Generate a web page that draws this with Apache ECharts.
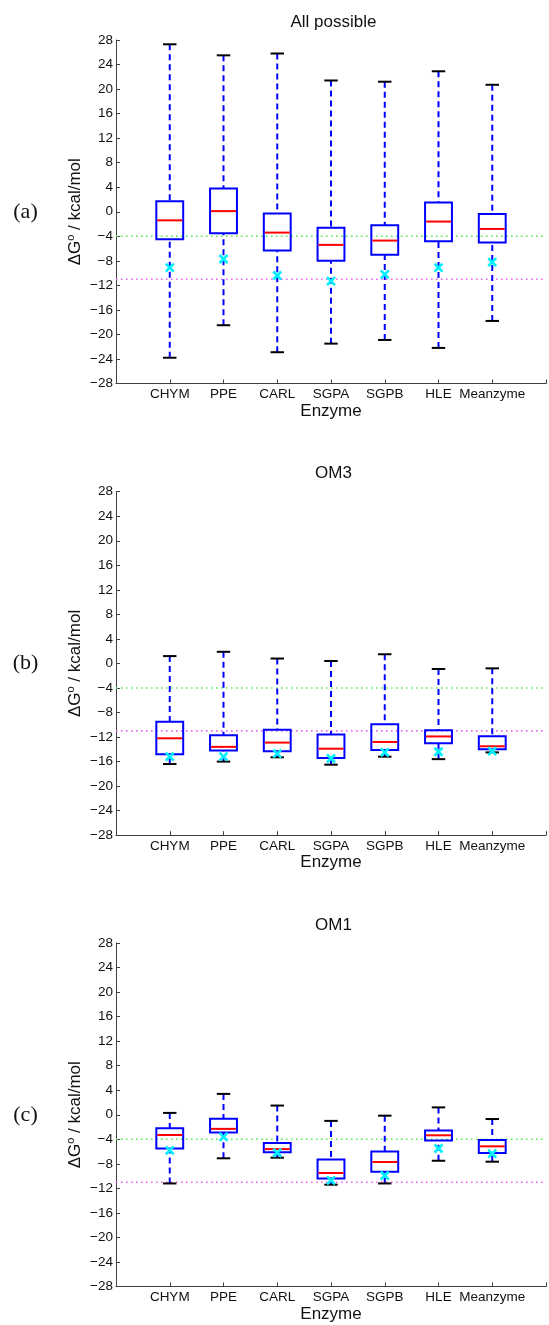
<!DOCTYPE html>
<html>
<head>
<meta charset="utf-8">
<script src="https://cdn.jsdelivr.net/npm/echarts@6/dist/echarts.min.js"></script>
<style>
html,body{margin:0;padding:0;background:#fff;}
#chart{width:549px;height:1325px;}
</style>
</head>
<body>
<div id="chart"></div>
<script>
// ---- data ----
const categories = ['CHYM', 'PPE', 'CARL', 'SGPA', 'SGPB', 'HLE', 'Meanzyme'];
const panelTitles = ['All possible', 'OM3', 'OM1'];
const panelTags = ['(a)', '(b)', '(c)'];
const yMin = -28, yMax = 28, yStep = 4;
const greenLevel = -4;
const magentaLevel = -11;

// All possible
const allHi   = [27.3, 25.5, 25.8, 21.4, 21.2, 22.9, 20.7];
const allQ3   = [1.7, 3.8, -0.3, -2.6, -2.2, 1.5, -0.35];
const allMed  = [-1.4, 0.1, -3.4, -5.4, -4.7, -1.6, -2.8];
const allQ1   = [-4.5, -3.5, -6.3, -8.0, -7.0, -4.8, -5.0];
const allLo   = [-23.8, -18.5, -22.9, -21.5, -20.9, -22.2, -17.8];
const allMark = [-9.1, -7.7, -10.4, -11.3, -10.2, -9.1, -8.2];

// OM3
const om3Hi   = [1.2, 1.9, 0.8, 0.4, 1.5, -0.9, -0.8];
const om3Q3   = [-9.5, -11.7, -10.8, -11.6, -9.9, -10.9, -11.85];
const om3Med  = [-12.2, -13.6, -12.9, -13.9, -12.8, -11.9, -13.5];
const om3Q1   = [-14.8, -14.2, -14.3, -15.4, -14.1, -13.0, -14.0];
const om3Lo   = [-16.4, -16.0, -15.3, -16.5, -15.2, -15.6, -14.5];
const om3Mark = [-15.2, -15.2, -14.7, -15.5, -14.5, -14.4, -14.3];

// OM1
const om1Hi   = [0.3, 3.4, 1.5, -1.0, -0.15, 1.2, -0.7];
const om1Q3   = [-2.2, -0.65, -4.6, -7.3, -6.0, -2.55, -4.1];
const om1Med  = [-3.3, -2.3, -5.6, -9.5, -7.7, -3.35, -5.15];
const om1Q1   = [-5.5, -2.9, -6.1, -10.4, -9.3, -4.2, -6.25];
const om1Lo   = [-11.2, -7.1, -7.0, -11.4, -11.2, -7.5, -7.65];
const om1Mark = [-5.8, -3.6, -6.2, -10.7, -9.9, -5.5, -6.35];

const panels = [
  {hi: allHi, q3: allQ3, med: allMed, q1: allQ1, lo: allLo, mark: allMark},
  {hi: om3Hi, q3: om3Q3, med: om3Med, q1: om3Q1, lo: om3Lo, mark: om3Mark},
  {hi: om1Hi, q3: om1Q3, med: om1Med, q1: om1Q1, lo: om1Lo, mark: om1Mark}
];

// ---- layout ----
const FONT = 'Liberation Sans, Arial, Helvetica, sans-serif';
const gridLeft = 116, gridWidth = 435, gridHeight = 343.5;
const gridTops = [40, 491.7, 943];
const xMin = 0, xMax = 8;

const chart = echarts.init(document.getElementById('chart'), null, {renderer: 'canvas'});

const grids = [], xAxes = [], yAxes = [], series = [], titles = [], graphics = [];

function fmtY(v) { return v < 0 ? '\u2212' + Math.abs(v) : String(v); }

panels.forEach((p, k) => {
  grids.push({left: gridLeft, top: gridTops[k], width: gridWidth, height: gridHeight, containLabel: false});
  xAxes.push({
    gridIndex: k, type: 'value', min: xMin, max: xMax, interval: 1,
    splitLine: {show: false},
    axisLine: {show: true, onZero: false, lineStyle: {color: '#404040', width: 1}},
    axisTick: {show: true, inside: true, length: 4, lineStyle: {color: '#404040'}},
    axisLabel: {
      margin: 4, color: '#111', fontFamily: FONT, fontSize: 13.5,
      showMinLabel: true, showMaxLabel: true,
      formatter: v => (v >= 1 && v <= categories.length) ? categories[v - 1] : ''
    },
    name: 'Enzyme', nameLocation: 'middle', nameGap: 18,
    nameTextStyle: {color: '#111', fontFamily: FONT, fontSize: 17}
  });
  yAxes.push({
    gridIndex: k, type: 'value', min: yMin, max: yMax, interval: yStep,
    splitLine: {show: false},
    axisLine: {show: true, onZero: false, lineStyle: {color: '#404040', width: 1}},
    axisTick: {show: true, inside: true, length: 4, lineStyle: {color: '#404040'}},
    axisLabel: {margin: 3, color: '#111', fontFamily: FONT, fontSize: 13.5, formatter: fmtY}
  });

  titles.push({
    text: panelTitles[k], left: gridLeft + gridWidth * 4 / 8, textAlign: 'center',
    top: gridTops[k] - 28, padding: 0,
    textStyle: {color: '#111', fontFamily: FONT, fontSize: 17, fontWeight: 'normal', lineHeight: 20}
  });

  // reference lines
  series.push({
    type: 'line', xAxisIndex: k, yAxisIndex: k, symbol: 'none', silent: true, z: 1,
    data: [[xMin, greenLevel], [xMax, greenLevel]],
    lineStyle: {color: '#55ee55', width: 1.6, type: [1.6, 3.4]}
  });
  series.push({
    type: 'line', xAxisIndex: k, yAxisIndex: k, symbol: 'none', silent: true, z: 1,
    data: [[xMin, magentaLevel], [xMax, magentaLevel]],
    lineStyle: {color: '#ee66ee', width: 1.6, type: [1.6, 3.4]}
  });

  // boxes
  series.push({
    type: 'custom', xAxisIndex: k, yAxisIndex: k, z: 2, silent: true,
    encode: {x: 0, y: [1, 2, 3, 4, 5]},
    data: categories.map((c, i) => [i + 1, p.lo[i], p.q1[i], p.med[i], p.q3[i], p.hi[i]]),
    renderItem: function (params, api) {
      const x = api.value(0);
      const pLo = api.coord([x, api.value(1)]);
      const pQ1 = api.coord([x, api.value(2)]);
      const pMed = api.coord([x, api.value(3)]);
      const pQ3 = api.coord([x, api.value(4)]);
      const pHi = api.coord([x, api.value(5)]);
      const cx = pMed[0];
      const half = api.size([0.5, 0])[0] / 2;
      const capHalf = api.size([0.25, 0])[0] / 2;
      const dash = {stroke: '#0000ff', lineWidth: 2, lineDash: [6, 4]};
      const cap = {stroke: '#000000', lineWidth: 2};
      return {
        type: 'group',
        children: [
          {type: 'line', shape: {x1: cx, y1: pHi[1], x2: cx, y2: pQ3[1]}, style: dash},
          {type: 'line', shape: {x1: cx, y1: pLo[1], x2: cx, y2: pQ1[1]}, style: dash},
          {type: 'line', shape: {x1: cx - capHalf, y1: pHi[1], x2: cx + capHalf, y2: pHi[1]}, style: cap},
          {type: 'line', shape: {x1: cx - capHalf, y1: pLo[1], x2: cx + capHalf, y2: pLo[1]}, style: cap},
          {type: 'rect', shape: {x: cx - half, y: pQ3[1], width: 2 * half, height: pQ1[1] - pQ3[1]},
           style: {fill: 'none', stroke: '#0000ff', lineWidth: 2}},
          {type: 'line', shape: {x1: cx - half + 1, y1: pMed[1], x2: cx + half - 1, y2: pMed[1]},
           style: {stroke: '#ff0000', lineWidth: 2}}
        ]
      };
    }
  });

  // markers
  series.push({
    type: 'scatter', xAxisIndex: k, yAxisIndex: k, z: 3, silent: true,
    symbol: 'path://M0 0L10 10M10 0L0 10', symbolSize: 8,
    itemStyle: {color: 'rgba(0,0,0,0)', borderColor: '#00f0ff', borderWidth: 2.6, opacity: 1},
    data: categories.map((c, i) => [i + 1, p.mark[i]])
  });

  const zeroY = gridTops[k] + gridHeight / 2;
  graphics.push({
    type: 'text', x: 75, y: zeroY, rotation: Math.PI / 2, silent: true,
    style: {
      text: '{m|\u0394G}{s|o}{m| / kcal/mol}',
      align: 'center', verticalAlign: 'middle', fill: '#111',
      rich: {
        m: {fontFamily: FONT, fontSize: 17, lineHeight: 20, fill: '#111'},
        s: {fontFamily: FONT, fontSize: 11, lineHeight: 12, verticalAlign: 'top', fill: '#111'}
      }
    }
  });
  graphics.push({
    type: 'text', x: 25.5, y: zeroY, silent: true,
    style: {
      text: panelTags[k], align: 'center', verticalAlign: 'middle', fill: '#111',
      fontFamily: 'Liberation Serif, Times New Roman, serif', fontSize: 22
    }
  });
});

chart.setOption({
  animation: false,
  backgroundColor: '#ffffff',
  title: titles,
  grid: grids,
  xAxis: xAxes,
  yAxis: yAxes,
  series: series,
  graphic: graphics
});
</script>
</body>
</html>
